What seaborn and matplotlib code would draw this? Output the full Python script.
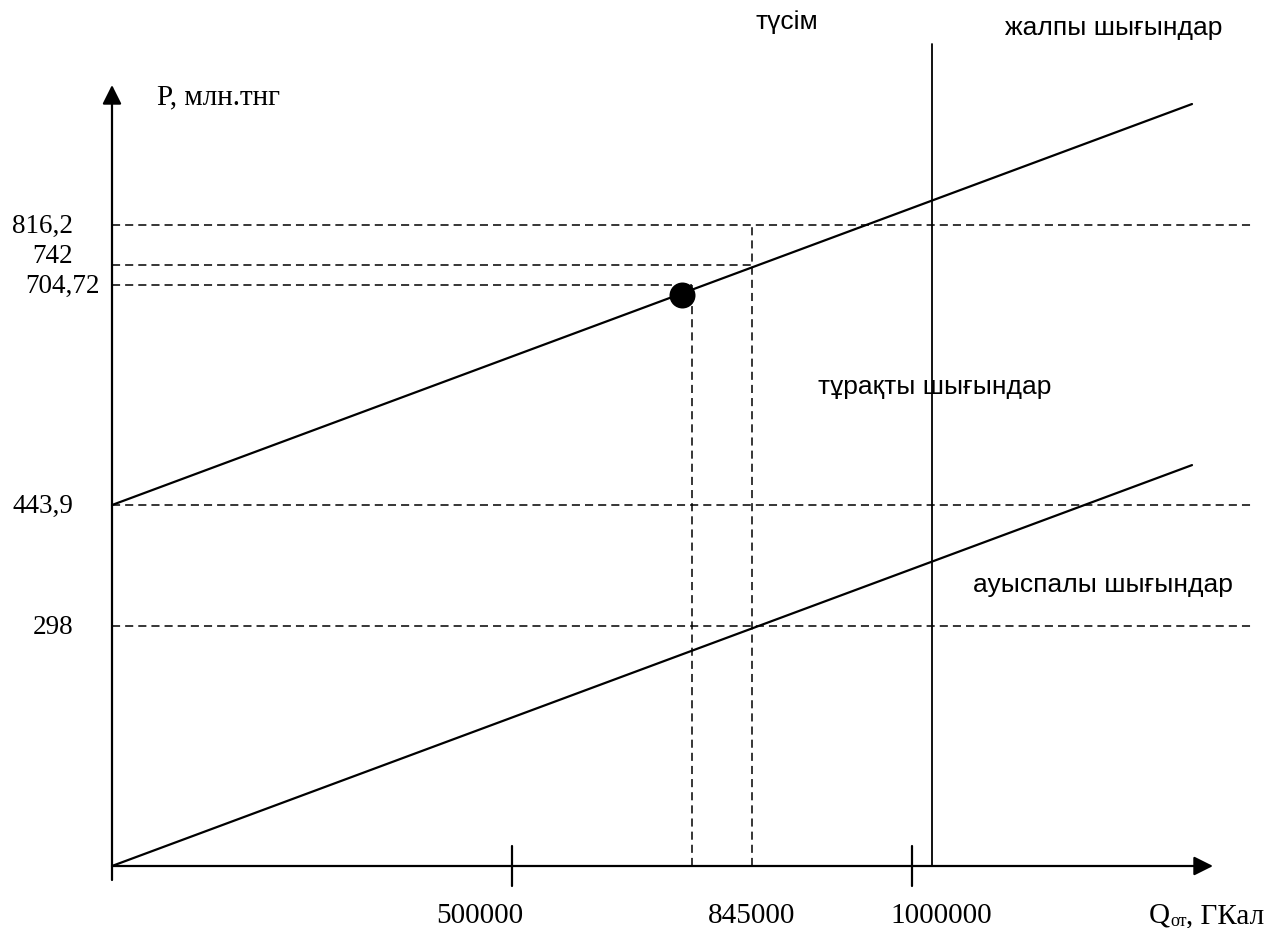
import matplotlib
matplotlib.use("Agg")
import matplotlib.pyplot as plt
import seaborn as sns
import pandas as pd

# ---------------- data (schematic break-even chart) ----------------
q_end = 1350000            # GKal, end of cost lines
fixed_cost = 443.9         # тұрақты шығындар level
total_end = 937.0          # total cost at q_end (schematic)
var_end = 493.0            # variable cost at q_end (schematic)
point_q, point_p = 712500, 702.0   # break-even point (schematic)
q_breakeven = 725000
q_plan = 800000
q_revenue = 1025000

y_tick_pos = [788.0, 739.0, 714.5, 443.9, 295.0]
y_tick_labels = ["816,2", "742", "704,72", "443,9", "298"]
x_tick_pos = [500000, 1000000]
x_label_pos = [460000, 800000, 1036000]
x_labels = ["500000", "845000", "1000000"]

sns.set_theme(style="white")
plt.rcParams['font.family'] = ['Liberation Sans', 'DejaVu Sans']
plt.rcParams['text.color'] = 'black'

# pixel scale helpers (layout)
PX_X = 0.0008      # px per GKal
PX_Y = 0.8132      # px per unit
X0, Y0 = 112, 867  # origin in px

fig = plt.figure(figsize=(12.69, 9.29), dpi=100)
ax = fig.add_axes([0, 0, 1, 1])
ax.set_xlim(-X0 / PX_X, (1269 - X0) / PX_X)
ax.set_ylim((Y0 - 929) / PX_Y, Y0 / PX_Y)
ax.axis("off")

def px_to_q(px):
    return (px - X0) / PX_X

def py_to_y(py):
    return (Y0 - py) / PX_Y

# cost lines
lines = pd.DataFrame({
    "Q": [0, q_end, 0, q_end],
    "P": [fixed_cost, total_end, 0, var_end],
    "series": ["total", "total", "variable", "variable"],
})
sns.lineplot(data=lines, x="Q", y="P", units="series", estimator=None,
             color="black", lw=1.6, ax=ax, legend=False)

dash = (0, (5.3, 3.3))
dkw = dict(color="black", lw=1.1, linestyle=dash)
right_q = px_to_q(1255)
# horizontal dashed lines
ax.plot([0, right_q], [y_tick_pos[0]] * 2, **dkw)
ax.plot([0, q_plan], [y_tick_pos[1]] * 2, **dkw)
ax.plot([0, q_breakeven], [y_tick_pos[2]] * 2, **dkw)
ax.plot([0, right_q], [y_tick_pos[3]] * 2, **dkw)
ax.plot([0, right_q], [y_tick_pos[4]] * 2, **dkw)
# vertical dashed lines
ax.plot([q_breakeven] * 2, [0, y_tick_pos[2]], **dkw)
ax.plot([q_plan] * 2, [0, y_tick_pos[0]], **dkw)
# revenue vertical line
ax.plot([q_revenue] * 2, [0, py_to_y(45)], color="black", lw=1.3)

# point
sns.scatterplot(x=[point_q], y=[point_p], s=300, color="black",
                edgecolor="black", ax=ax, zorder=5, legend=False)

# axes with arrows
akw = dict(arrowstyle="-|>", color="black", lw=1.6, mutation_scale=29,
           shrinkA=0, shrinkB=0)
ax.annotate("", xy=(px_to_q(1213), 0), xytext=(0, 0), arrowprops=akw)
ax.annotate("", xy=(0, py_to_y(86)), xytext=(0, py_to_y(881)), arrowprops=akw)
# x ticks
for q in x_tick_pos:
    ax.plot([q, q], [py_to_y(847), py_to_y(887)], color="black", lw=1.6)

serif = ['Liberation Serif', 'DejaVu Serif']
# y tick labels
label_right_px = [73, 73, 100, 73, 73]
label_dy_px = [0, -10, 0, 0, 0]
for pos, lab, rx, dy in zip(y_tick_pos, y_tick_labels, label_right_px, label_dy_px):
    ax.text(px_to_q(rx), pos - dy / PX_Y, lab, ha="right", va="center",
            fontsize=19.5, family=serif, color="black")
# x tick labels
for pos, lab in zip(x_label_pos, x_labels):
    ax.text(pos, py_to_y(916), lab, ha="center", va="center",
            fontsize=21, family=serif, color="black")

# axis titles
ax.text(px_to_q(157), py_to_y(97), "P, млн.тнг", ha="left", va="center",
        fontsize=21, family=serif, color="black")
t1 = ax.text(px_to_q(1149), py_to_y(916), "Q", ha="left", va="center",
             fontsize=21, family=serif, color="black")
fig.canvas.draw()
r = fig.canvas.get_renderer()
bb = t1.get_window_extent(r)
t2 = ax.text(bb.x1, bb.y0 - 1, "от", ha="left", va="bottom", fontsize=13,
             family=serif, transform=None, color="black")
fig.canvas.draw()
bb2 = t2.get_window_extent(r)
ax.text(bb2.x1, bb.y0 + bb.height / 2, ", ГКал", ha="left", va="center",
        fontsize=21, family=serif, transform=None, color="black")

# curve labels
sans = ['Liberation Sans', 'DejaVu Sans']
ax.text(px_to_q(755), py_to_y(22), "түсім", ha="left", va="center",
        fontsize=19, family=sans, color="black")
ax.text(px_to_q(1005), py_to_y(28), "жалпы шығындар", ha="left", va="center",
        fontsize=19, family=sans, color="black")
ax.text(px_to_q(818), py_to_y(387), "тұрақты шығындар", ha="left", va="center",
        fontsize=19, family=sans, color="black")
ax.text(px_to_q(973), py_to_y(585), "ауыспалы шығындар", ha="left", va="center",
        fontsize=19, family=sans, color="black")

fig.savefig("out.png", dpi=100, facecolor="white")
